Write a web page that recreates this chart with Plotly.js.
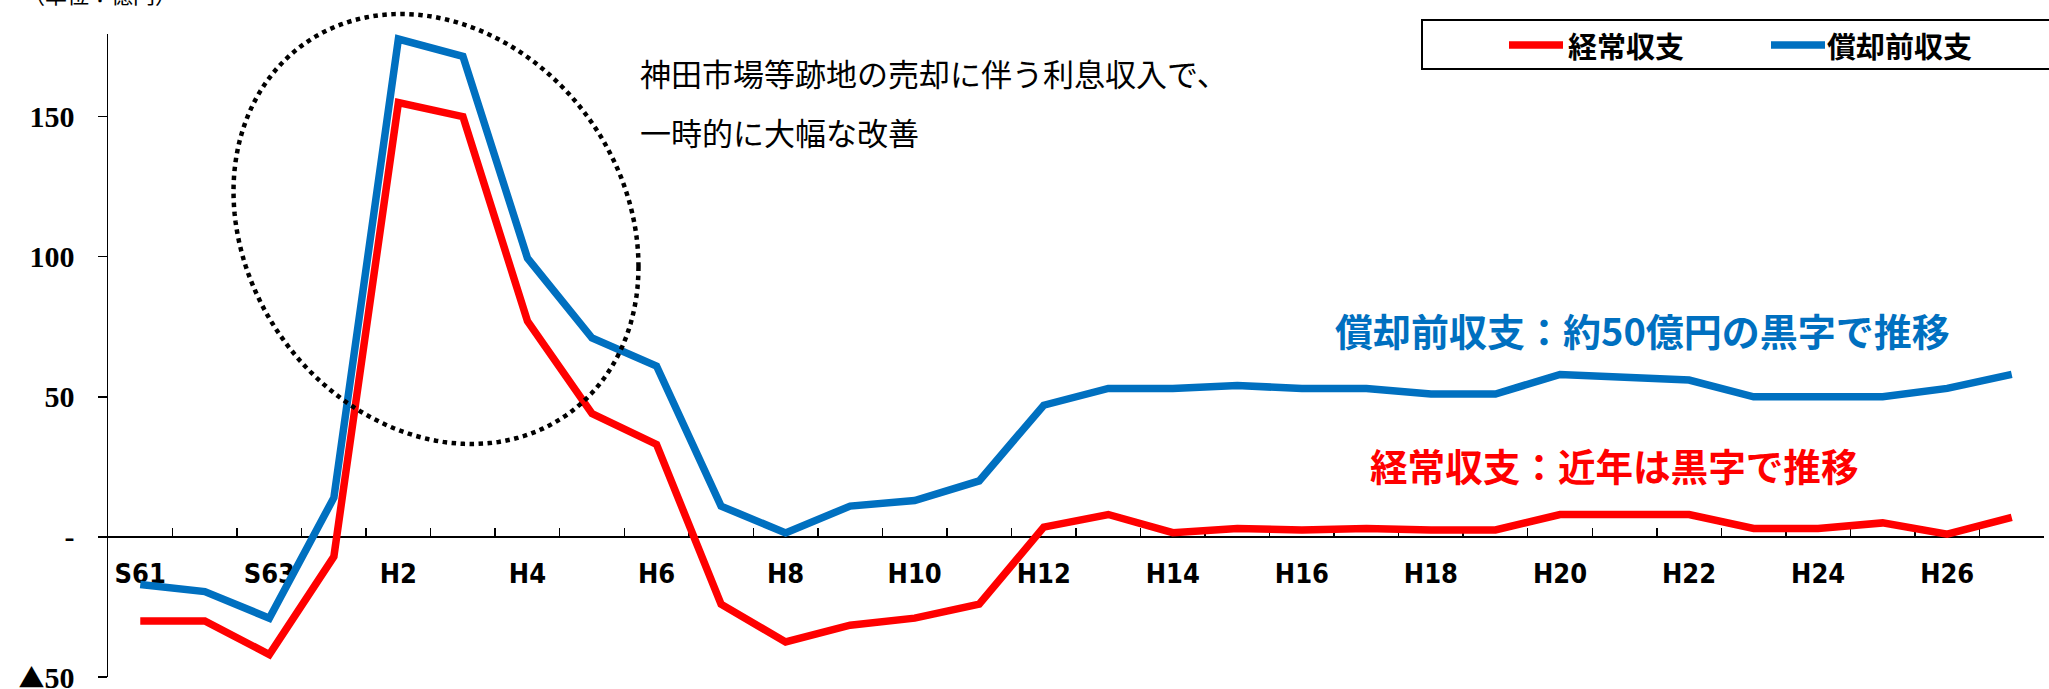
<!DOCTYPE html>
<html><head><meta charset="utf-8">
<script src="https://cdn.plot.ly/plotly-3.0.1.min.js"></script>
<style>html,body{margin:0;padding:0;background:#fff}</style>
</head><body>
<div id="chart" style="width:2049px;height:689px"></div>
<script>
// ---- data ----
const categories = ['S61','S62','S63','H1','H2','H3','H4','H5','H6','H7','H8','H9','H10','H11','H12','H13','H14','H15','H16','H17','H18','H19','H20','H21','H22','H23','H24','H25','H26','H27'];
const tickLabels = ['S61','','S63','','H2','','H4','','H6','','H8','','H10','','H12','','H14','','H16','','H18','','H20','','H22','','H24','','H26',''];
const keijoShushi = [-30,-30,-42,-7,155,150,77,44,33,-24,-37.5,-31.5,-29,-24,3.5,8,1.5,3,2.5,3,2.5,2.5,8,8,8,3,3,5,1,7];
const shokyakuShushi = [-17,-19.5,-29,14,177.7,171.5,99.5,71,61,11,1.4,11,13,20,47,53,53,54,53,53,51,51,58,57,56,50,50,50,53,58];
const yTickVals = [-50,0,50,100,150];
const yTickText = ['<span style="font-family:\'Noto Sans CJK JP\';font-size:26px">▲</span>50','-','50','100','150'];
const seriesNames = ['経常収支','償却前収支'];
const unitLabel = '（単位：億円）';
const noteLine1 = '神田市場等跡地の売却に伴う利息収入で、';
const noteLine2 = '一時的に大幅な改善';
const blueNote = '償却前収支：約50億円の黒字で推移';
const redNote = '経常収支：近年は黒字で推移';

// ---- layout helpers ----
const W = 2049, H = 689;
const M = {l:108, r:5, t:34, b:12};
const PW = W - M.l - M.r, PH = H - M.t - M.b;
const px = x => (x - M.l) / PW;
const py = y => (H - M.b - y) / PH;
const yRange = [-50, 179.5];
const RED = '#FF0000', BLUE = '#0070C0';
const JP = '"Noto Sans CJK JP", "Noto Sans", sans-serif';

// dotted tilted ellipse (pixel geometry)
function ellipsePath(cx, cy, hw, hh, cov) {
  const k = cov / hw;
  const s = Math.sqrt(hh*hh - k*k);
  let d = '';
  const n = 180;
  for (let i = 0; i <= n; i++) {
    const t = 2*Math.PI*i/n;
    const x = cx + hw*Math.cos(t);
    const y = cy + k*Math.cos(t) + s*Math.sin(t);
    d += (i === 0 ? 'M' : 'L') + px(x).toFixed(5) + ',' + py(y).toFixed(5);
  }
  return d + 'Z';
}

const traces = [
  {x: categories, y: keijoShushi, name: seriesNames[0], type: 'scatter', mode: 'lines',
   line: {color: RED, width: 7.5}, showlegend: false, hoverinfo: 'skip'},
  {x: categories, y: shokyakuShushi, name: seriesNames[1], type: 'scatter', mode: 'lines',
   line: {color: BLUE, width: 7.5}, showlegend: false, hoverinfo: 'skip'}
];

const ann = (text, x, y, size, color, bold, anchor) => ({
  text: text, xref: 'paper', yref: 'paper', x: px(x), y: py(y),
  xanchor: anchor || 'left', yanchor: 'middle', showarrow: false,
  font: {family: JP, size: size, color: color, weight: bold ? 700 : 400}
});

const layout = {
  width: W, height: H,
  margin: {l: M.l, r: M.r, t: M.t, b: M.b, pad: 0},
  paper_bgcolor: '#fff', plot_bgcolor: '#fff',
  showlegend: false,
  xaxis: {
    type: 'category', range: [-0.5, 29.5], anchor: 'free',
    position: (0 - yRange[0]) / (yRange[1] - yRange[0]),
    tickmode: 'array', tickvals: categories, ticktext: tickLabels,
    tickson: 'boundaries', ticks: 'inside', ticklen: 8, tickwidth: 1.5, tickcolor: '#000',
    showline: true, linecolor: '#000', linewidth: 2, showgrid: false, zeroline: false,
    ticklabelstandoff: 13, layer: 'below traces', automargin: false,
    tickfont: {family: '"Liberation Sans Narrow", "Arial Narrow", "DejaVu Sans Condensed", sans-serif', size: 27, color: '#000', weight: 700}
  },
  yaxis: {
    range: yRange, anchor: 'x',
    tickmode: 'array', tickvals: yTickVals, ticktext: yTickText,
    ticks: 'outside', ticklen: 9, tickwidth: 1.5, tickcolor: '#000',
    showline: true, linecolor: '#000', linewidth: 1.5, showgrid: false, zeroline: false,
    ticklabelstandoff: 17, ticklabeloverflow: 'allow', automargin: false,
    tickfont: {family: '"Liberation Serif", "Times New Roman", serif', size: 30, color: '#000', weight: 700}
  },
  shapes: [
    {type: 'path', xref: 'paper', yref: 'paper', path: ellipsePath(436, 229, 202.5, 215, 7600),
     line: {color: '#000', width: 4.5, dash: '4.5px,4.5px'}, layer: 'above'},
    {type: 'rect', xref: 'paper', yref: 'paper', x0: px(1422), x1: px(2070), y0: py(69), y1: py(20),
     line: {color: '#000', width: 2}, fillcolor: 'rgba(0,0,0,0)'},
    {type: 'line', xref: 'paper', yref: 'paper', x0: px(1509), x1: px(1563), y0: py(45), y1: py(45),
     line: {color: RED, width: 7.5}},
    {type: 'line', xref: 'paper', yref: 'paper', x0: px(1771), x1: px(1825), y0: py(45), y1: py(45),
     line: {color: BLUE, width: 7.5}}
  ],
  annotations: [
    ann(unitLabel, 21, -7, 22, '#000', false),
    ann(noteLine1, 638, 73, 31, '#000', false),
    ann(noteLine2, 638, 131, 31, '#000', false),
    ann(blueNote, 1333, 330, 38, BLUE, true),
    ann(redNote, 1368, 464, 37.6, RED, true),
    ann(seriesNames[0], 1566, 45, 29, '#000', true),
    ann(seriesNames[1], 1825, 45, 29, '#000', true)
  ]
};

Plotly.newPlot('chart', traces, layout, {displayModeBar: false, staticPlot: true});
</script>
</body></html>
